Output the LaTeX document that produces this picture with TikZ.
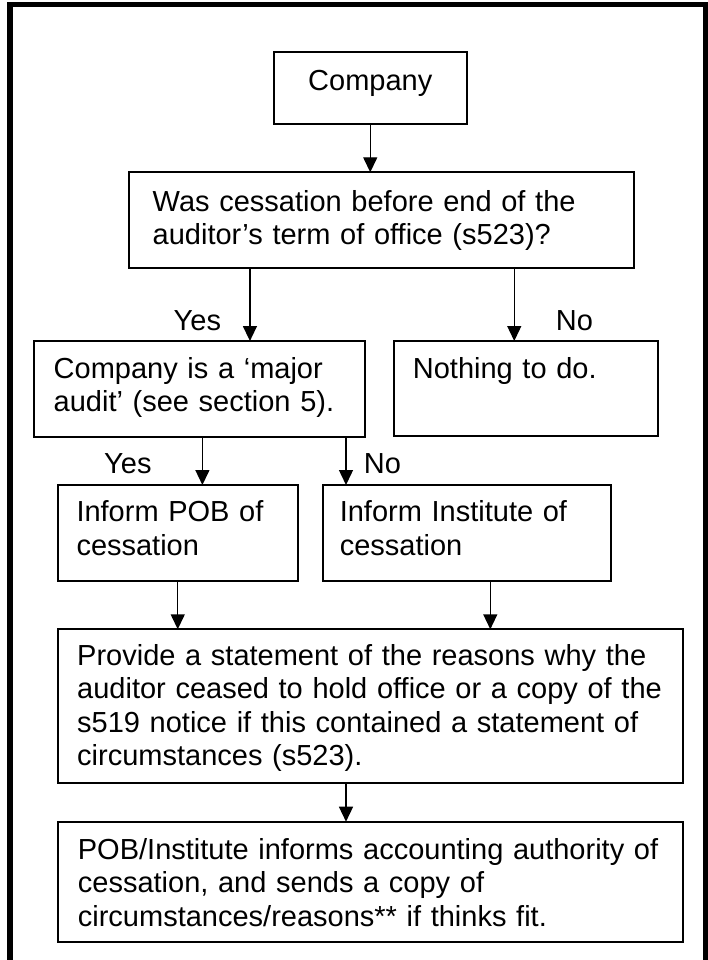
\documentclass[tikz,border=0pt]{standalone}
\usepackage{fontspec}
\setmainfont{Liberation Sans}
\usetikzlibrary{arrows.meta,positioning}

\begin{document}
\begin{tikzpicture}[x=1pt,y=-1pt,
  box/.style={draw,line width=2pt,inner sep=0pt,outer sep=0pt,anchor=north west},
  txt/.style={anchor=base west,inner sep=0pt,align=left,font=\fontsize{29}{33.3}\selectfont},
  lbl/.style={anchor=base west,inner sep=0pt,font=\fontsize{29}{33.3}\selectfont},
  arr/.style={-{Triangle[length=15pt,width=14pt]},line width=1.4pt}]
\useasboundingbox (0,0) rectangle (707,960);
\draw[line width=5.5pt] (10,960) -- (10,4.5) -- (705.8,4.5) -- (705.8,960);
% boxes
\node[box,minimum width=192.5pt,minimum height=72pt] (company) at (274,52.3) {};
\node[box,minimum width=505.3pt,minimum height=96pt] (q) at (129,172.3) {};
\node[box,minimum width=331pt,minimum height=95.7pt] (major) at (34,341) {};
\node[box,minimum width=264.3pt,minimum height=95pt] (nothing) at (394,341) {};
\node[box,minimum width=240.5pt,minimum height=96pt] (pob) at (57.5,485) {};
\node[box,minimum width=288pt,minimum height=96pt] (inst) at (322.5,485) {};
\node[box,minimum width=625pt,minimum height=153.4pt] (provide) at (57.8,629.3) {};
\node[box,minimum width=625pt,minimum height=120pt] (report) at (57.8,821.7) {};
% texts
\node[lbl,anchor=base] (companytxt) at (370.3,91) {Company};
\node[txt,text width=475pt] (qtxt) at (152.5,211) {Was cessation before end of the\\auditor’s term of office (s523)?};
\node[txt,text width=305pt] (majortxt) at (53.5,378) {Company is a ‘major\\audit’ (see section 5).};
\node[txt,text width=240pt] (nothingtxt) at (412.7,378) {Nothing to do.};
\node[txt,text width=215pt] (pobtxt) at (76.3,521.7) {Inform POB of\\cessation};
\node[txt,text width=265pt] (insttxt) at (339.6,521.7) {Inform Institute of\\cessation};
\node[txt,text width=600pt] (providetxt) at (77,665.5) {Provide a statement of the reasons why the\\auditor ceased to hold office or a copy of the\\s519 notice if this contained a statement of\\circumstances (s523).};
\node[txt,text width=600pt] (reporttxt) at (77.7,859.5) {POB/Institute informs accounting authority of\\cessation, and sends a copy of\\circumstances/reasons** if thinks fit.};
% labels
\node[lbl] (yesq) at (173.5,330) {Yes};
\node[lbl] (noq) at (555.7,330) {No};
\node[lbl] (yesmajor) at (104,473.3) {Yes};
\node[lbl] (nomajor) at (363.7,473.3) {No};
% arrows
\coordinate (qyes) at ([xshift=-131.7pt]q.south);
\coordinate (qno) at ([xshift=132.6pt]q.south);
\coordinate (majoryes) at ([xshift=2.9pt]major.south);
\coordinate (majorno) at ([xshift=146.5pt]major.south);
\coordinate (instout) at ([xshift=23.8pt]inst.south);
\coordinate (provideout) at ([xshift=-24.3pt]provide.south);
\draw[arr] (company.south) -- (company.south |- q.north);
\draw[arr] (qyes) -- (qyes |- major.north);
\draw[arr] (qno) -- (qno |- nothing.north);
\draw[arr] (majoryes) -- (majoryes |- pob.north);
\draw[arr] (majorno) -- (majorno |- inst.north);
\draw[arr] (pob.south) -- (pob.south |- provide.north);
\draw[arr] (instout) -- (instout |- provide.north);
\draw[arr] (provideout) -- (provideout |- report.north);
\end{tikzpicture}
\end{document}
